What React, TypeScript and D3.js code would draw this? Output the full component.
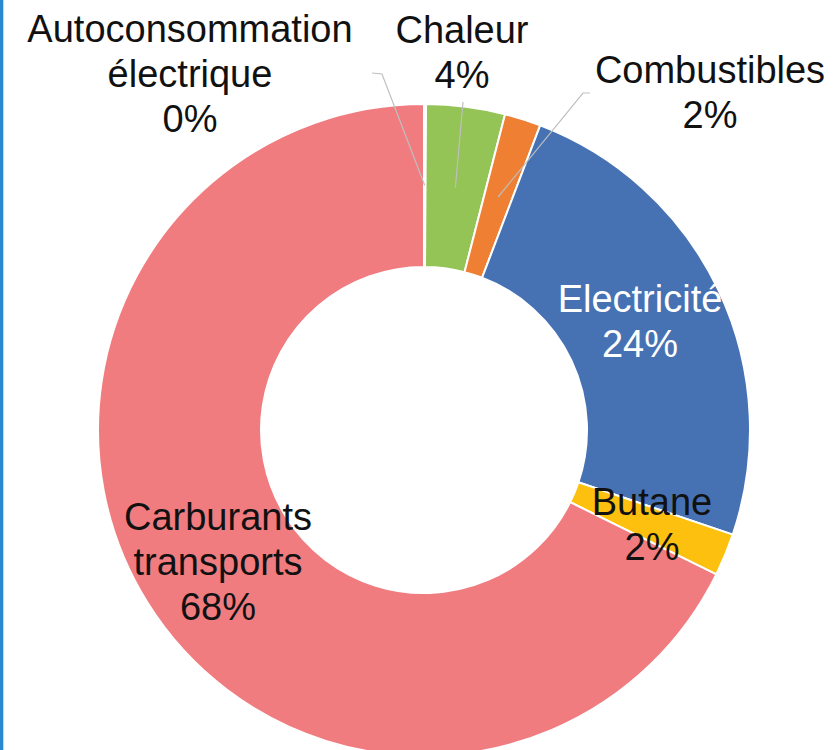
import React from 'react'
import * as d3 from 'd3'

// Parts of consumption (clockwise from 12 o'clock)
const categories = ['Autoconsommation électrique', 'Chaleur', 'Combustibles', 'Electricité', 'Butane', 'Carburants transports']
const values = [0.1, 3.9, 1.8, 24.4, 2.1, 67.7]
const colors = ['#f07c80', '#93c455', '#ee7f33', '#4672b4', '#fdc00f', '#f07c80']

// label lines (text) per slice
const labelLines = [
  ['Autoconsommation', 'électrique'],
  ['Chaleur'],
  ['Combustibles'],
  ['Electricité'],
  ['Butane'],
  ['Carburants', 'transports'],
]

const W = 833
const H = 750
const cx = 424
const cy = 430
const outerR = 326
const innerR = 163
const lineH = 45

// label anchor (centre x, first baseline y) and leader line start points
const labelPos: { x: number; y: number; color: string; leader?: [number, number][] }[] = [
  { x: 190, y: 42, color: '#111', leader: [[372, 73], [382, 74]] },
  { x: 462, y: 43, color: '#111', leader: [[463, 102]] },
  { x: 710, y: 83, color: '#111', leader: [[590, 93], [583, 93]] },
  { x: 640, y: 312, color: '#fff' },
  { x: 652, y: 515, color: '#111' },
  { x: 218, y: 530, color: '#111' },
]

export default function App() {
  const total = d3.sum(values)
  const pie = d3.pie<number>().sort(null).value((d) => d)
  const arcs = pie(values)
  const arc = d3.arc<d3.PieArcDatum<number>>().innerRadius(innerR).outerRadius(outerR)

  return (
    <svg width={W} height={H} style={{ position: 'absolute', left: 0, top: 0, background: '#fff' }}
      fontFamily="'Liberation Sans', Arial, Helvetica, sans-serif">
      <rect x={0} y={0} width={3} height={H} fill="#2a88cf" />
      <rect x={3} y={0} width={1} height={H} fill="#bcd9f1" />
      <g transform={`translate(${cx},${cy})`}>
        {arcs.map((a, i) => (
          <path key={categories[i]} d={arc(a) || ''} fill={colors[i]} stroke="#fff" strokeWidth={2} />
        ))}
      </g>
      {arcs.map((a, i) => {
        const lp = labelPos[i]
        if (!lp.leader) return null
        const [mx, my] = arc.centroid(a)
        const pts = [...lp.leader, [cx + mx, cy + my]]
        return (
          <path key={'l' + i} d={d3.line()(pts as [number, number][]) || ''} fill="none" stroke="#bfbfbf" strokeWidth={1.2} />
        )
      })}
      {categories.map((c, i) => {
        const lp = labelPos[i]
        const lines = [...labelLines[i], `${Math.round((values[i] / total) * 100)}%`]
        return (
          <text key={c} x={lp.x} y={lp.y} textAnchor="middle" fontSize={38} fill={lp.color}>
            {lines.map((t, j) => (
              <tspan key={j} x={lp.x} y={lp.y + j * lineH}>{t}</tspan>
            ))}
          </text>
        )
      })}
    </svg>
  )
}
